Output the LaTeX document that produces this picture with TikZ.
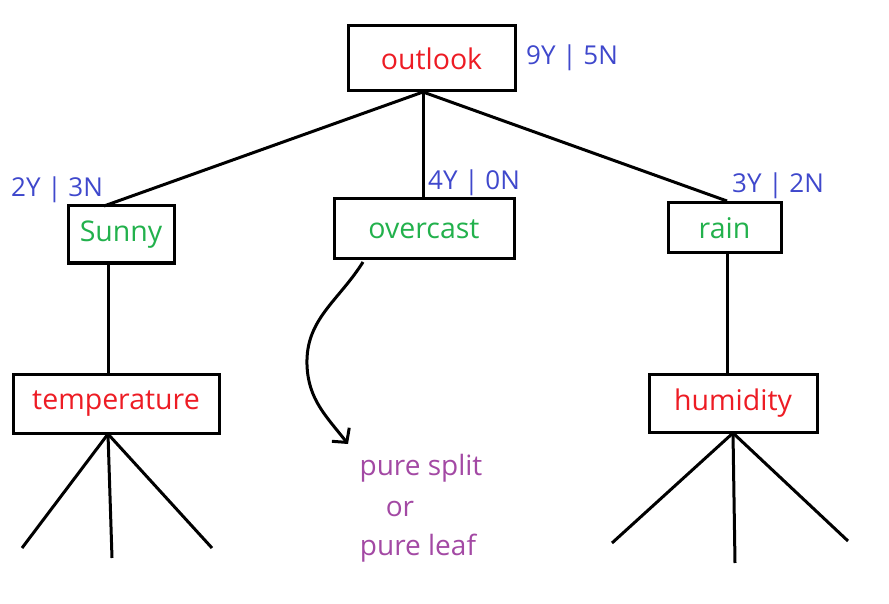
\documentclass[tikz,border=0pt]{standalone}
\usepackage{fontspec}
\setmainfont{Open Sans}
\usetikzlibrary{arrows.meta}

\definecolor{pRed}{HTML}{ED1C24}
\definecolor{pGreen}{HTML}{22B14C}
\definecolor{pBlue}{HTML}{3F48CC}
\definecolor{pPurple}{HTML}{A349A4}

\tikzset{
  box/.style={draw, line width=3pt, inner sep=0pt, font=\fontsize{28.5}{32}\selectfont},
  attr/.style={box, text=pRed},
  val/.style={box, text=pGreen},
  count/.style={text=pBlue, inner sep=0pt, font=\fontsize{26}{30}\selectfont},
  note/.style={text=pPurple, inner sep=0pt, font=\fontsize{28}{32}\selectfont},
  edge/.style={line width=3pt},
}

\begin{document}
\begin{tikzpicture}[x=1pt,y=-1pt]
\useasboundingbox (0,0) rectangle (889,604);

\node[attr, minimum width=167pt, minimum height=65pt] (OL) at (431.5,58.5) {outlook};
\node[val, minimum width=106pt, minimum height=57pt] (SU) at (121,234.5) {Sunny};
\node[val, minimum width=180pt, minimum height=60pt] (OC) at (424,229) {overcast};
\node[val, minimum width=113pt, minimum height=50pt] (RA) at (724.5,228) {rain};
\node[attr, minimum width=206pt, minimum height=59pt] (TE) at (116,403.5) {temperature};
\node[attr, minimum width=168pt, minimum height=58pt] (HU) at (733,403) {humidity};

\node[count] (cOL) at (572,58) {9Y | 5N};
\node[count] (cSU) at (57,190) {2Y | 3N};
\node[count] (cOC) at (474,183) {4Y | 0N};
\node[count] (cRA) at (778,186) {3Y | 2N};

\node[note] (N1) at (421,468) {pure split};
\node[note] (N2) at (400,509) {or};
\node[note] (N3) at (418,548) {pure leaf};

% tree edges
\coordinate (OLb) at (423,92);
\draw[edge] (OLb) -- (104,206);
\draw[edge] (OLb) -- (423,199);
\draw[edge] (OLb) -- (727,201);
\draw[edge] (108,263) -- (108,374);
\draw[edge] (727,253) -- (727,374);

% open branches
\coordinate (TEb) at (108,434);
\coordinate (T1) at (22,548);
\coordinate (T2) at (112,558);
\coordinate (T3) at (212,548);
\draw[edge] (TEb) -- (T1);
\draw[edge] (TEb) -- (T2);
\draw[edge] (TEb) -- (T3);
\coordinate (HUb) at (733,433);
\coordinate (H1) at (612,543);
\coordinate (H2) at (735,563);
\coordinate (H3) at (848,541);
\draw[edge] (HUb) -- (H1);
\draw[edge] (HUb) -- (H2);
\draw[edge] (HUb) -- (H3);

% pure split arrow
\coordinate (A0) at (363,262);
\coordinate (A1) at (307,365);
\coordinate (A2) at (348,444);
\draw[edge, -{Straight Barb[length=10pt,width=22pt,line width=3pt]}]
  (A0) to[out=-122,in=92] (A1) to[out=-88,in=128] (A2);

\end{tikzpicture}
\end{document}
